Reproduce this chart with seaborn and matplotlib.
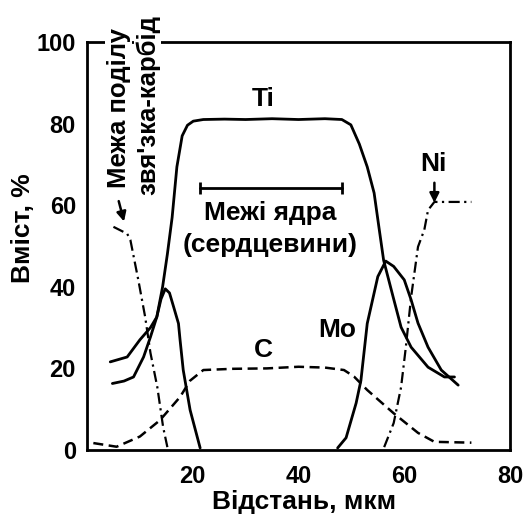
import numpy as np
import pandas as pd
import matplotlib
matplotlib.use("Agg")
import matplotlib.pyplot as plt
import seaborn as sns

# ---- data ----
ti_x = [4.8, 7.0, 8.8, 10.7, 12.0, 13.2, 14.3, 15.2, 16.1, 17.0, 18.0, 19.0, 20.1, 22.0, 26.0, 30.0, 35.0, 40.0, 45.0, 48.2,
        49.9, 51.5, 53.0, 54.3, 55.2, 56.1, 57.9, 59.4, 61.3, 64.5, 67.6, 69.5]
ti_y = [16.3, 16.9, 17.9, 22.8, 27.7, 32.6, 40.0, 48.0, 57.0, 69.4, 77.0, 79.6, 80.6, 81.0, 81.1, 81.0, 81.2, 81.0, 81.2, 81.0,
        79.7, 75.0, 69.4, 63.0, 54.7, 46.5, 37.5, 30.1, 25.2, 20.3, 17.9, 17.9]

mo_left_x = [4.4, 7.6, 10.0, 12.0, 13.2, 14.0, 14.8, 15.6, 16.4, 17.3, 17.6, 18.2, 19.5, 21.4]
mo_left_y = [21.6, 22.8, 27.0, 30.0, 32.6, 37.0, 39.5, 38.5, 35.0, 31.0, 27.0, 19.6, 9.8, 0.5]
mo_right_x = [47.4, 49.0, 50.9, 51.8, 53.0, 55.0, 56.5, 58.0, 60.0, 61.3, 62.6, 64.5, 67.0, 70.2]
mo_right_y = [0.5, 3.0, 11.5, 17.0, 31.0, 42.5, 46.3, 45.0, 41.7, 36.8, 31.1, 25.2, 19.6, 15.9]

c_x = [1.2, 5.6, 10.0, 13.8, 17.6, 19.5, 22.0, 27.6, 34.0, 40.0, 45.0, 48.6, 50.5, 53.0, 58.0, 62.6, 65.7, 72.7]
c_y = [1.7, 0.8, 3.3, 7.3, 13.0, 17.0, 19.6, 19.9, 20.0, 20.4, 20.2, 19.6, 18.0, 14.7, 9.0, 4.2, 2.0, 1.8]

ni_left_x = [5.0, 7.6, 8.2, 9.7, 11.0, 12.0, 13.3, 14.4, 15.2]
ni_left_y = [54.7, 53.0, 51.5, 41.7, 32.6, 23.8, 15.4, 5.6, 0.7]
ni_right_x = [56.2, 58.0, 59.4, 60.3, 61.3, 62.6, 63.8, 64.5, 65.7, 68.0, 72.7]
ni_right_y = [0.7, 6.6, 15.4, 25.2, 37.5, 49.8, 54.0, 58.8, 60.8, 60.8, 60.8]

x_ticks = [20, 40, 60, 80]
y_ticks = [0, 20, 40, 60, 80, 100]
x_label = "Відстань, мкм"
y_label = "Вміст, %"

# ---- style ----
sns.set_style("white")
K = "black"
plt.rcParams["font.family"] = ["Liberation Sans", "DejaVu Sans"]
plt.rcParams["font.weight"] = "bold"
plt.rcParams["text.color"] = K
plt.rcParams["axes.labelcolor"] = K
plt.rcParams["xtick.color"] = K
plt.rcParams["ytick.color"] = K

fig = plt.figure(figsize=(5.25, 5.18), dpi=100)
ax = fig.add_axes([87 / 525, 1 - 450 / 518, (510 - 87) / 525, (450 - 42) / 518])

solid = dict(color=K, lw=2.0, estimator=None, sort=False, ax=ax)
sns.lineplot(x=ti_x, y=ti_y, **solid)
sns.lineplot(x=mo_left_x, y=mo_left_y, **solid)
sns.lineplot(x=mo_right_x, y=mo_right_y, **solid)
sns.lineplot(x=c_x, y=c_y, color=K, lw=1.8, estimator=None, sort=False, ax=ax,
             linestyle=(0, (4, 2.2)))
sns.lineplot(x=ni_left_x, y=ni_left_y, color=K, lw=1.6, estimator=None, sort=False, ax=ax,
             linestyle=(0, (5, 2, 1, 2)))
sns.lineplot(x=ni_right_x, y=ni_right_y, color=K, lw=1.6, estimator=None, sort=False, ax=ax,
             linestyle=(0, (5, 2, 1, 2)))

ax.set_xlim(0, 80)
ax.set_ylim(0, 100)
ax.set_xticks(x_ticks)
ax.set_yticks(y_ticks)
ax.tick_params(axis="x", direction="out", length=8, width=2, pad=3, labelsize=17, colors=K)
ax.tick_params(axis="y", direction="out", length=3, width=2, pad=5, labelsize=17, colors=K)
for sp in ax.spines.values():
    sp.set_visible(True)
    sp.set_linewidth(2)
    sp.set_color(K)

ax.set_xlabel(x_label, fontsize=19, fontweight="bold", color=K)
ax.set_ylabel(y_label, fontsize=19, fontweight="bold", color=K)
ax.xaxis.set_label_coords(0.513, -0.097)
ax.yaxis.set_label_coords(-0.122, 0.545)

fs = 19
ax.text(33.4, 86.0, "Ti", fontsize=fs, fontweight="bold", ha="center", va="center")
ax.text(65.5, 70.0, "Ni", fontsize=fs, fontweight="bold", ha="center", va="center")
ax.text(47.4, 29.4, "Mo", fontsize=fs, fontweight="bold", ha="center", va="center")
ax.text(33.4, 24.5, "C", fontsize=fs, fontweight="bold", ha="center", va="center")
ax.text(34.6, 58.0, "Межі ядра", fontsize=fs, fontweight="bold", ha="center", va="center")
ax.text(34.6, 50.3, "(сердцевини)", fontsize=fs, fontweight="bold", ha="center", va="center")

ax.plot([21.3, 48.2], [64.2, 64.2], color=K, lw=2, marker="|", ms=9, mew=2)

bb = dict(facecolor="white", edgecolor="none", pad=1)
ax.text(6.0, 83.8, "Межа поділу", fontsize=18.5, fontweight="bold", rotation=90,
        ha="center", va="center", clip_on=False, bbox=bb, zorder=5)
ax.text(11.5, 84.6, "звя'зка-карбід", fontsize=18.5, fontweight="bold", rotation=90,
        ha="center", va="center", clip_on=False, bbox=bb, zorder=5)

ap = dict(arrowstyle="-|>", color=K, lw=1.8, mutation_scale=14, shrinkA=0, shrinkB=0)
ax.annotate("", xy=(7.0, 56.0), xytext=(6.0, 61.0), arrowprops=ap)
ax.annotate("", xy=(65.7, 60.6), xytext=(65.7, 65.5), arrowprops=ap)

fig.savefig("out.png", dpi=100)
